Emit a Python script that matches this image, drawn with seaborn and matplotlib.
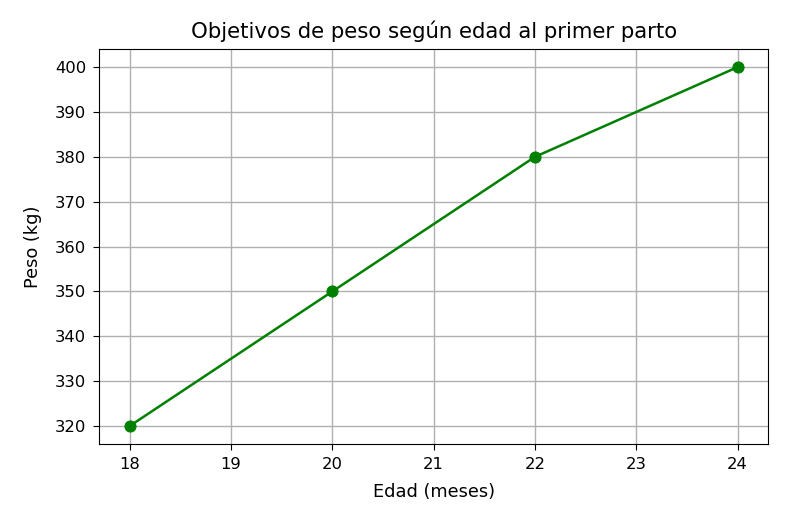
import matplotlib
matplotlib.use("Agg")
import matplotlib.pyplot as plt
import seaborn as sns

edad = [18, 20, 22, 24]
peso = [320, 350, 380, 400]

fig, ax = plt.subplots(figsize=(8, 5.23), dpi=100)
fig.subplots_adjust(left=0.124, right=0.96, top=0.906, bottom=0.151)

sns.lineplot(x=edad, y=peso, marker="o", color="green", markersize=8,
             markeredgecolor="green", linewidth=1.8, ax=ax)

ax.set_title("Objetivos de peso según edad al primer parto", fontsize=15.3, pad=8)
ax.set_xlabel("Edad (meses)", fontsize=12.8, labelpad=8)
ax.set_ylabel("Peso (kg)", fontsize=12.8, labelpad=9)
ax.tick_params(labelsize=11.8, length=4.5, pad=5)
ax.grid(True, linewidth=1.0)

fig.savefig("out.png", dpi=100)
